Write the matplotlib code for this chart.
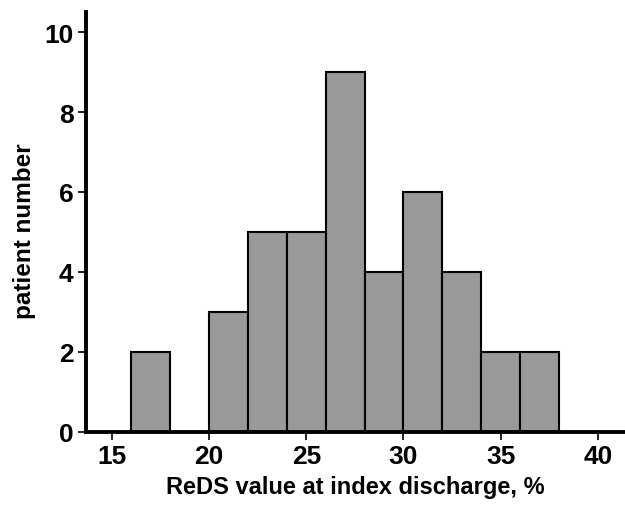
import matplotlib.pyplot as plt
import numpy as np

plt.rcParams['font.family'] = ['Liberation Sans', 'DejaVu Sans']
plt.rcParams['font.weight'] = 'bold'

# histogram bins (ReDS %, width 2) and patient counts
bin_edges = [16, 18, 20, 22, 24, 26, 28, 30, 32, 34, 36, 38]
counts = [2, 0, 3, 5, 5, 9, 4, 6, 4, 2, 2]
xticks = [15, 20, 25, 30, 35, 40]
yticks = [0, 2, 4, 6, 8, 10]

fig = plt.figure(figsize=(6.25, 5.1), dpi=100)
ax = fig.add_axes([0.1376, 0.151, 0.8624, 0.8235])

ax.bar(bin_edges[:-1], counts, width=np.diff(bin_edges), align='edge',
       color='#999999', edgecolor='black', linewidth=1.5)

ax.set_xlim(13.66, 41.4)
ax.set_ylim(0, 10.5)
ax.set_xticks(xticks)
ax.set_yticks(yticks)

for s in ['top', 'right']:
    ax.spines[s].set_visible(False)
for s in ['left', 'bottom']:
    ax.spines[s].set_linewidth(2.8)

ax.tick_params(axis='both', direction='out', length=6, width=1.2,
               labelsize=19, pad=3)
for lab in ax.get_xticklabels() + ax.get_yticklabels():
    lab.set_fontweight('bold')

ax.set_xlabel('ReDS value at index discharge, %', fontsize=17,
              fontweight='bold', labelpad=5)
ax.set_ylabel('patient number', fontsize=17.5, fontweight='bold')
ax.yaxis.set_label_coords(-0.093, 0.48)

fig.savefig('out.png', dpi=100)
